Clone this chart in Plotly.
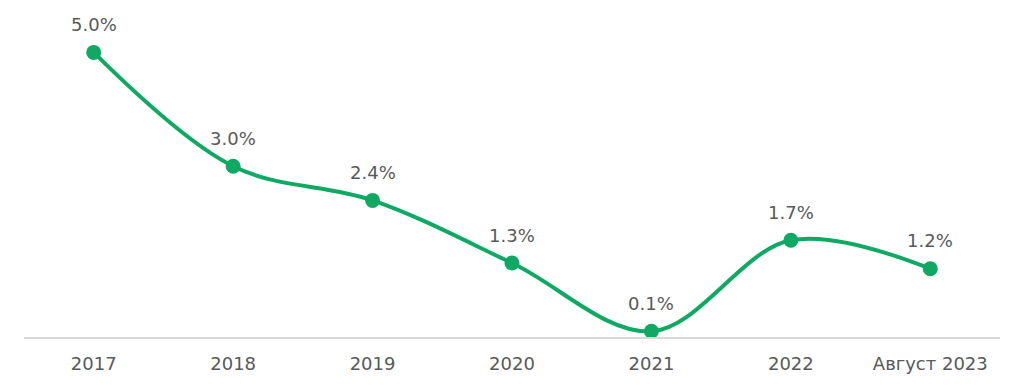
import plotly.graph_objects as go

categories = ["2017", "2018", "2019", "2020", "2021", "2022", "Август 2023"]
values = [5.0, 3.0, 2.4, 1.3, 0.1, 1.7, 1.2]
labels = [f"{v:.1f}%" for v in values]

green = "#10A963"
gray = "#595959"
fig = go.Figure(go.Scatter(
    x=categories, y=values, mode="lines+markers",
    line=dict(color=green, width=4, shape="spline", smoothing=1.0),
    marker=dict(color=green, size=15),
    cliponaxis=False, hoverinfo="skip",
))
for i, (v, t) in enumerate(zip(values, labels)):
    fig.add_annotation(x=i, y=v, text=t, showarrow=False, yshift=28,
                       yanchor="middle", xanchor="center",
                       font=dict(family="DejaVu Sans", size=18, color=gray))
fig.update_layout(
    width=1024, height=385,
    margin=dict(l=16, r=32, t=0, b=56, autoexpand=False),
    paper_bgcolor="white", plot_bgcolor="white",
    showlegend=False,
    font=dict(family="DejaVu Sans", size=18, color=gray),
    xaxis=dict(type="category", range=[-0.5, 6.5], showgrid=False, showline=True,
               linecolor="#D9D9D9", linewidth=1.5, ticks="",
               tickfont=dict(size=18, color=gray),
               ticklabelstandoff=10, automargin=False),
    yaxis=dict(range=[0, 5.78], visible=False, showgrid=False, zeroline=False),
)
fig.write_html("out.html")
